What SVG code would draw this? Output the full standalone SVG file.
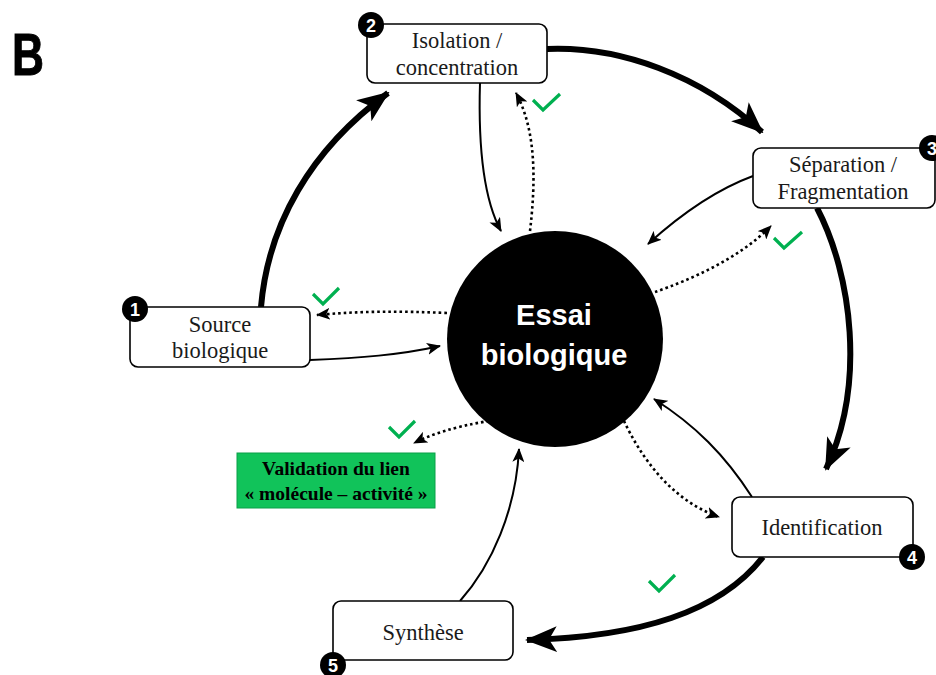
<svg xmlns="http://www.w3.org/2000/svg" width="936" height="675" viewBox="0 0 936 675">
<style>
.box{fill:#fff;stroke:#000;stroke-width:1.6}
.lbl{font-family:"Liberation Serif","Times New Roman",serif;font-size:22.5px;fill:#1a1a1a;text-anchor:middle}
.val{font-family:"Liberation Serif","Times New Roman",serif;font-size:19.5px;font-weight:bold;fill:#000;text-anchor:middle}
.badge circle{fill:#000}
.badge text{font-family:"Liberation Sans",Arial,sans-serif;font-size:18px;font-weight:bold;fill:#fff;text-anchor:middle}
.thick{fill:none;stroke:#000;stroke-width:6;marker-end:url(#big)}
.thin{fill:none;stroke:#000;stroke-width:2;marker-end:url(#small)}
.dot{fill:none;stroke:#000;stroke-width:2.6;stroke-dasharray:2.6 3;marker-end:url(#small)}
.chk{fill:none;stroke:#00b050;stroke-width:3.2}
</style>
<defs>
<marker id="big" markerUnits="userSpaceOnUse" markerWidth="32" markerHeight="28" viewBox="0 0 32 28" refX="30" refY="14" orient="auto">
<path d="M0,1 L32,14 L0,27 L8,14 z" fill="#000"/>
</marker>
<marker id="small" markerUnits="userSpaceOnUse" markerWidth="14" markerHeight="12" viewBox="0 0 14 12" refX="13" refY="6" orient="auto">
<path d="M0,0 L14,6 L0,12 L3.5,6 z" fill="#000"/>
</marker>
</defs>
<rect width="936" height="675" fill="#fff"/>
<text x="12" y="75" font-family="Liberation Sans,Arial,sans-serif" font-size="60" font-weight="bold" stroke="#000" stroke-width="1" textLength="32" lengthAdjust="spacingAndGlyphs">B</text>

<g id="connectors">
<path class="thick" d="M261,307 C268,225 310,150 388,93"/>
<path class="thick" d="M547,49 C620,46 700,75 762,132"/>
<path class="thick" d="M817,208 C852,275 866,385 826,469"/>
<path class="thick" d="M763,557 C720,612 640,637 527,640"/>
<path class="thin" d="M310,360 C360,358 400,355 440,346"/>
<path class="thin" d="M480,83 C478,150 484,200 501,231"/>
<path class="thin" d="M753,176 C715,190 680,215 648,244"/>
<path class="thin" d="M752,497 C725,455 695,425 654,399"/>
<path class="thin" d="M460,601 C492,565 516,510 519,449"/>
<path class="dot" d="M530,231 C536,180 536,130 516,93"/>
<path class="dot" d="M655,292 C690,280 740,258 771,226"/>
<path class="dot" d="M447,313 C400,311 360,311 317,315"/>
<path class="dot" d="M489,421 C470,424 440,430 414,443"/>
<path class="dot" d="M624,421 C640,455 670,500 719,517"/>
</g>

<g id="checks">
<path class="chk" d="M533,100 L543,110 L560,94"/>
<path class="chk" d="M774,238 L784,248 L802,232"/>
<path class="chk" d="M313,294 L323,304 L339,288"/>
<path class="chk" d="M389,427 L399,437 L415,421"/>
<path class="chk" d="M649,581 L659,591 L675,575"/>
</g>

<g id="essai">
<circle cx="555" cy="339" r="108" fill="#000"/>
<text x="554" y="325" font-family="Liberation Sans,Arial,sans-serif" font-size="29" font-weight="bold" fill="#fff" text-anchor="middle">Essai</text>
<text x="554" y="365" font-family="Liberation Sans,Arial,sans-serif" font-size="29" font-weight="bold" fill="#fff" text-anchor="middle">biologique</text>
</g>

<g id="source">
<rect class="box" x="130" y="307" width="180" height="60" rx="8"/>
<text class="lbl" x="220" y="332">Source</text>
<text class="lbl" x="220" y="358">biologique</text>
<g class="badge"><circle cx="135" cy="309" r="13"/><text x="135" y="315.5">1</text></g>
</g>

<g id="isolation">
<rect class="box" x="367" y="24" width="180" height="59" rx="8"/>
<text class="lbl" x="457" y="48">Isolation /</text>
<text class="lbl" x="457" y="75">concentration</text>
<g class="badge"><circle cx="371" cy="25" r="13"/><text x="371" y="31.5">2</text></g>
</g>

<g id="separation">
<rect class="box" x="753" y="148" width="182" height="60" rx="8"/>
<text class="lbl" x="843" y="172">Séparation /</text>
<text class="lbl" x="843" y="199">Fragmentation</text>
<g class="badge"><circle cx="932" cy="148" r="13"/><text x="932" y="154.5">3</text></g>
</g>

<g id="identification">
<rect class="box" x="732" y="497" width="181" height="60" rx="8"/>
<text class="lbl" x="822" y="535">Identification</text>
<g class="badge"><circle cx="912" cy="557" r="13"/><text x="912" y="563.5">4</text></g>
</g>

<g id="synthese">
<rect class="box" x="333" y="601" width="180" height="59" rx="8"/>
<text class="lbl" x="423" y="640">Synthèse</text>
<g class="badge"><circle cx="333" cy="665" r="13"/><text x="333" y="671.5">5</text></g>
</g>

<g id="validation">
<rect x="237" y="453" width="198" height="55" fill="#11c35a" stroke="#0aa048" stroke-width="1"/>
<text class="val" x="336" y="475">Validation du lien</text>
<text class="val" x="336" y="500">« molécule – activité »</text>
</g>
</svg>
